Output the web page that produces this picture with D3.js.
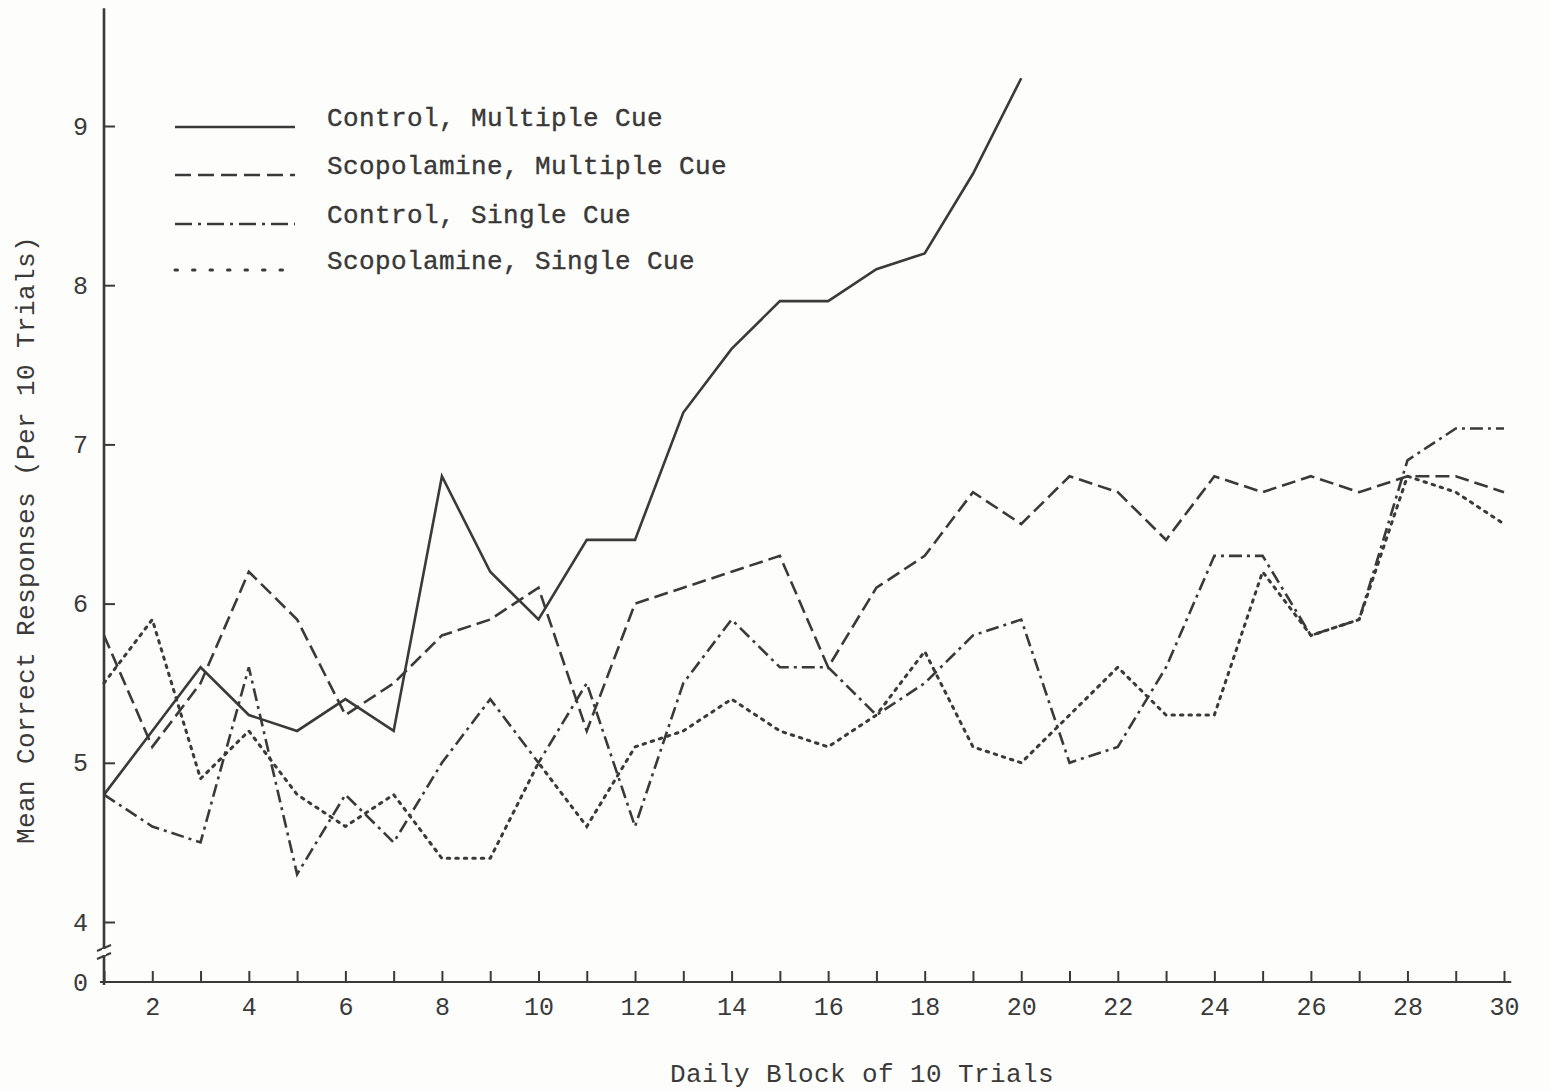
<!DOCTYPE html>
<html>
<head>
<meta charset="utf-8">
<script src="https://cdn.jsdelivr.net/npm/d3@7"></script>
<style>
  html, body { margin: 0; padding: 0; background: #fdfdfb; }
  svg { display: block; }
  text { font-family: "Liberation Mono", "DejaVu Sans Mono", monospace; fill: #3a3a3a; }
</style>
</head>
<body>
<svg id="chart" width="1550" height="1091"></svg>
<script>
// ---- data ----
const blocks = [1,2,3,4,5,6,7,8,9,10,11,12,13,14,15,16,17,18,19,20,21,22,23,24,25,26,27,28,29,30];
const xTickLabels = [2,4,6,8,10,12,14,16,18,20,22,24,26,28,30];
const yTickValues = [0,4,5,6,7,8,9];

const controlMultiple = [4.8,5.2,5.6,5.3,5.2,5.4,5.2,6.8,6.2,5.9,6.4,6.4,7.2,7.6,7.9,7.9,8.1,8.2,8.7,9.3];
const scopolamineMultiple = [5.8,5.1,5.5,6.2,5.9,5.3,5.5,5.8,5.9,6.1,5.2,6.0,6.1,6.2,6.3,5.6,6.1,6.3,6.7,6.5,6.8,6.7,6.4,6.8,6.7,6.8,6.7,6.8,6.8,6.7];
const controlSingle = [4.8,4.6,4.5,5.6,4.3,4.8,4.5,5.0,5.4,5.0,5.5,4.6,5.5,5.9,5.6,5.6,5.3,5.5,5.8,5.9,5.0,5.1,5.6,6.3,6.3,5.8,5.9,6.9,7.1,7.1];
const scopolamineSingle = [5.5,5.9,4.9,5.2,4.8,4.6,4.8,4.4,4.4,5.0,4.6,5.1,5.2,5.4,5.2,5.1,5.3,5.7,5.1,5.0,5.3,5.6,5.3,5.3,6.2,5.8,5.9,6.8,6.7,6.5];

const seriesNames = ["Control, Multiple Cue", "Scopolamine, Multiple Cue", "Control, Single Cue", "Scopolamine, Single Cue"];

// ---- styles ----
const ink = "#3a3a3a";
const styles = [
  { dash: null, legendDash: null, width: 2.6, cap: "butt" },
  { dash: "14,6", legendDash: "16,7", width: 2.6, cap: "butt" },
  { dash: "13,5,3,5", legendDash: "17,6,3,6", width: 2.6, cap: "butt" },
  { dash: "2.5,6", legendDash: "2.5,15", width: 3, cap: "round" }
];
const seriesValues = [controlMultiple, scopolamineMultiple, controlSingle, scopolamineSingle];

const svg = d3.select("#chart");

const x = d3.scaleLinear().domain([1, 30]).range([104, 1504]);
const y = d3.scaleLinear().domain([0, 4, 9]).range([982, 922, 126]);

// axis lines
svg.append("line")
  .attr("x1", x(1)).attr("x2", x(1))
  .attr("y1", y(9.74)).attr("y2", y(0) + 3)
  .attr("stroke", ink).attr("stroke-width", 2.6);
svg.append("line")
  .attr("x1", x(1) - 4).attr("x2", x(30.15))
  .attr("y1", y(0)).attr("y2", y(0))
  .attr("stroke", ink).attr("stroke-width", 2.2);

// x axis
const xAxis = d3.axisBottom(x)
  .tickValues(blocks)
  .tickSizeInner(-11)
  .tickSizeOuter(0)
  .tickPadding(24)
  .tickFormat(d => xTickLabels.includes(d) ? d : "");
const gx = svg.append("g").attr("transform", `translate(0,${y(0)})`).call(xAxis);
gx.select(".domain").remove();
gx.selectAll(".tick line").attr("stroke", ink).attr("stroke-width", 2);
gx.selectAll(".tick text").attr("font-size", 25).attr("fill", "#444")
  .attr("font-family", "'Liberation Mono', monospace").attr("dy", "0.35em");

// y axis
const yAxis = d3.axisLeft(y)
  .tickValues(yTickValues)
  .tickSizeInner(-11)
  .tickSizeOuter(0)
  .tickPadding(16)
  .tickFormat(d3.format("d"));
const gy = svg.append("g").attr("transform", `translate(${x(1)},0)`).call(yAxis);
gy.select(".domain").remove();
gy.selectAll(".tick line").attr("stroke", ink).attr("stroke-width", 2);
gy.selectAll(".tick").filter(d => d === 0).select("line").remove();
gy.selectAll(".tick text").attr("font-size", 25).attr("fill", "#444")
  .attr("font-family", "'Liberation Mono', monospace");

// axis break marks
const yb = (y(0) + y(4)) / 2;
[-4, 4].forEach(off => {
  svg.append("line")
    .attr("x1", x(1) - 7).attr("x2", x(1) + 7)
    .attr("y1", yb + off + 3).attr("y2", yb + off - 3)
    .attr("stroke", ink).attr("stroke-width", 2);
});
svg.append("rect").attr("x", x(1) - 2).attr("y", yb - 3).attr("width", 4).attr("height", 6).attr("fill", "#fdfdfb");

// lines
const line = d3.line().x((d, i) => x(blocks[i])).y(d => y(d));
seriesValues.forEach((vals, k) => {
  const st = styles[k];
  svg.append("path")
    .datum(vals)
    .attr("d", line)
    .attr("fill", "none")
    .attr("stroke", ink)
    .attr("stroke-width", st.width)
    .attr("stroke-linecap", st.cap)
    .attr("stroke-linejoin", "miter")
    .attr("stroke-dasharray", st.dash);
});

// legend
const legendRowY = [127, 175, 224, 270];
const lg = svg.append("g");
seriesNames.forEach((name, k) => {
  const st = styles[k];
  lg.append("line")
    .attr("x1", 175).attr("x2", 295)
    .attr("y1", legendRowY[k]).attr("y2", legendRowY[k])
    .attr("stroke", ink)
    .attr("stroke-width", st.width)
    .attr("stroke-linecap", st.cap)
    .attr("stroke-dasharray", st.legendDash);
  lg.append("text")
    .attr("x", 327).attr("y", legendRowY[k] - 1)
    .attr("font-size", 26)
    .attr("letter-spacing", 0.4)
    .attr("fill", "#2e2e2e")
    .attr("stroke", "#2e2e2e").attr("stroke-width", 0.35)
    .text(name);
});

// axis titles
svg.append("text")
  .attr("x", 862).attr("y", 1082)
  .attr("text-anchor", "middle")
  .attr("font-size", 26).attr("letter-spacing", 0.4)
  .attr("fill", "#444")
  .text("Daily Block of 10 Trials");
svg.append("text")
  .attr("transform", "translate(34,540) rotate(-90)")
  .attr("text-anchor", "middle")
  .attr("font-size", 26).attr("letter-spacing", 0.4)
  .attr("fill", "#444")
  .text("Mean Correct Responses (Per 10 Trials)");
</script>
</body>
</html>
